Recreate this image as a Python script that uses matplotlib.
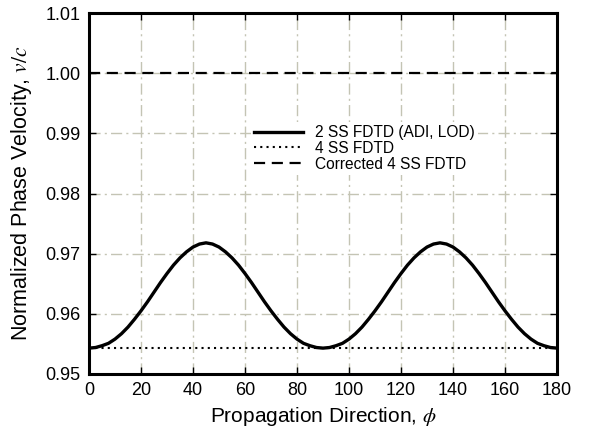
import matplotlib
matplotlib.use("Agg")
import matplotlib.pyplot as plt
from matplotlib.ticker import FormatStrFormatter

plt.rcParams.update({"font.family": "Liberation Sans", "mathtext.fontset": "stix"})

# propagation angle (deg), 2.5 deg steps
phi = [0, 2.5, 5, 7.5, 10, 12.5, 15, 17.5, 20, 22.5, 25, 27.5, 30, 32.5, 35, 37.5,
       40, 42.5, 45, 47.5, 50, 52.5, 55, 57.5, 60, 62.5, 65, 67.5, 70, 72.5, 75,
       77.5, 80, 82.5, 85, 87.5, 90, 92.5, 95, 97.5, 100, 102.5, 105, 107.5, 110,
       112.5, 115, 117.5, 120, 122.5, 125, 127.5, 130, 132.5, 135, 137.5, 140,
       142.5, 145, 147.5, 150, 152.5, 155, 157.5, 160, 162.5, 165, 167.5, 170,
       172.5, 175, 177.5, 180]
# normalized phase velocity v/c
v_2ss = [0.9543, 0.9544, 0.9547, 0.9551, 0.9558, 0.9567, 0.9578, 0.9591, 0.9605,
         0.9620, 0.9636, 0.9652, 0.9667, 0.9681, 0.9693, 0.9703, 0.9711, 0.9716,
         0.9718,
         0.9716, 0.9711, 0.9703, 0.9693, 0.9681, 0.9667, 0.9652, 0.9636, 0.9620,
         0.9605, 0.9591, 0.9578, 0.9567, 0.9558, 0.9551, 0.9547, 0.9544, 0.9543,
         0.9544, 0.9547, 0.9551, 0.9558, 0.9567, 0.9578, 0.9591, 0.9605, 0.9620,
         0.9636, 0.9652, 0.9667, 0.9681, 0.9693, 0.9703, 0.9711, 0.9716, 0.9718,
         0.9716, 0.9711, 0.9703, 0.9693, 0.9681, 0.9667, 0.9652, 0.9636, 0.9620,
         0.9605, 0.9591, 0.9578, 0.9567, 0.9558, 0.9551, 0.9547, 0.9544, 0.9543]
v_4ss = [0.9543] * len(phi)
v_corr = [1.0] * len(phi)

xticks = [0, 20, 40, 60, 80, 100, 120, 140, 160, 180]
yticks = [0.95, 0.96, 0.97, 0.98, 0.99, 1.00, 1.01]

fig = plt.figure(figsize=(6.11, 4.41), dpi=100)
ax = fig.add_axes([89 / 611, 67 / 441, 468 / 611, 361 / 441])

ax.plot(phi, v_2ss, color="black", lw=2.4, label="2 SS FDTD (ADI, LOD)", zorder=3)
ax.plot(phi, v_4ss, color="black", lw=1.5, ls=(0, (1, 2)), label="4 SS FDTD", zorder=3)
ax.plot(phi, v_corr, color="black", lw=1.6, ls=(0, (5, 3)),
        label="Corrected 4 SS FDTD", zorder=3)

ax.set_xlim(0, 180)
ax.set_ylim(0.95, 1.01)
ax.set_xticks(xticks)
ax.set_yticks(yticks)
ax.yaxis.set_major_formatter(FormatStrFormatter("%.2f"))
ax.tick_params(direction="in", length=5, width=1, top=True, right=True,
               labelsize=13, pad=6)
ax.grid(color="#c4c4b4", lw=1.0, ls=(0, (8, 3, 1.5, 3)))
ax.set_axisbelow(True)
for s in ax.spines.values():
    s.set_linewidth(2.2)

ax.set_xlabel(r"Propagation Direction, $\phi$", fontsize=15, labelpad=4)
ax.set_ylabel(r"Normalized Phase Velocity, $v/c$", fontsize=15.5, labelpad=8)

leg = ax.legend(loc="upper left", bbox_to_anchor=(0.33, 0.72), frameon=True,
                fontsize=11.2, handlelength=3.1, handletextpad=0.8,
                labelspacing=0.05, borderpad=0.2)
leg.get_frame().set_edgecolor("none")
leg.get_frame().set_facecolor("white")
leg.get_frame().set_alpha(1.0)

fig.savefig("out.png", dpi=100, facecolor="white")
